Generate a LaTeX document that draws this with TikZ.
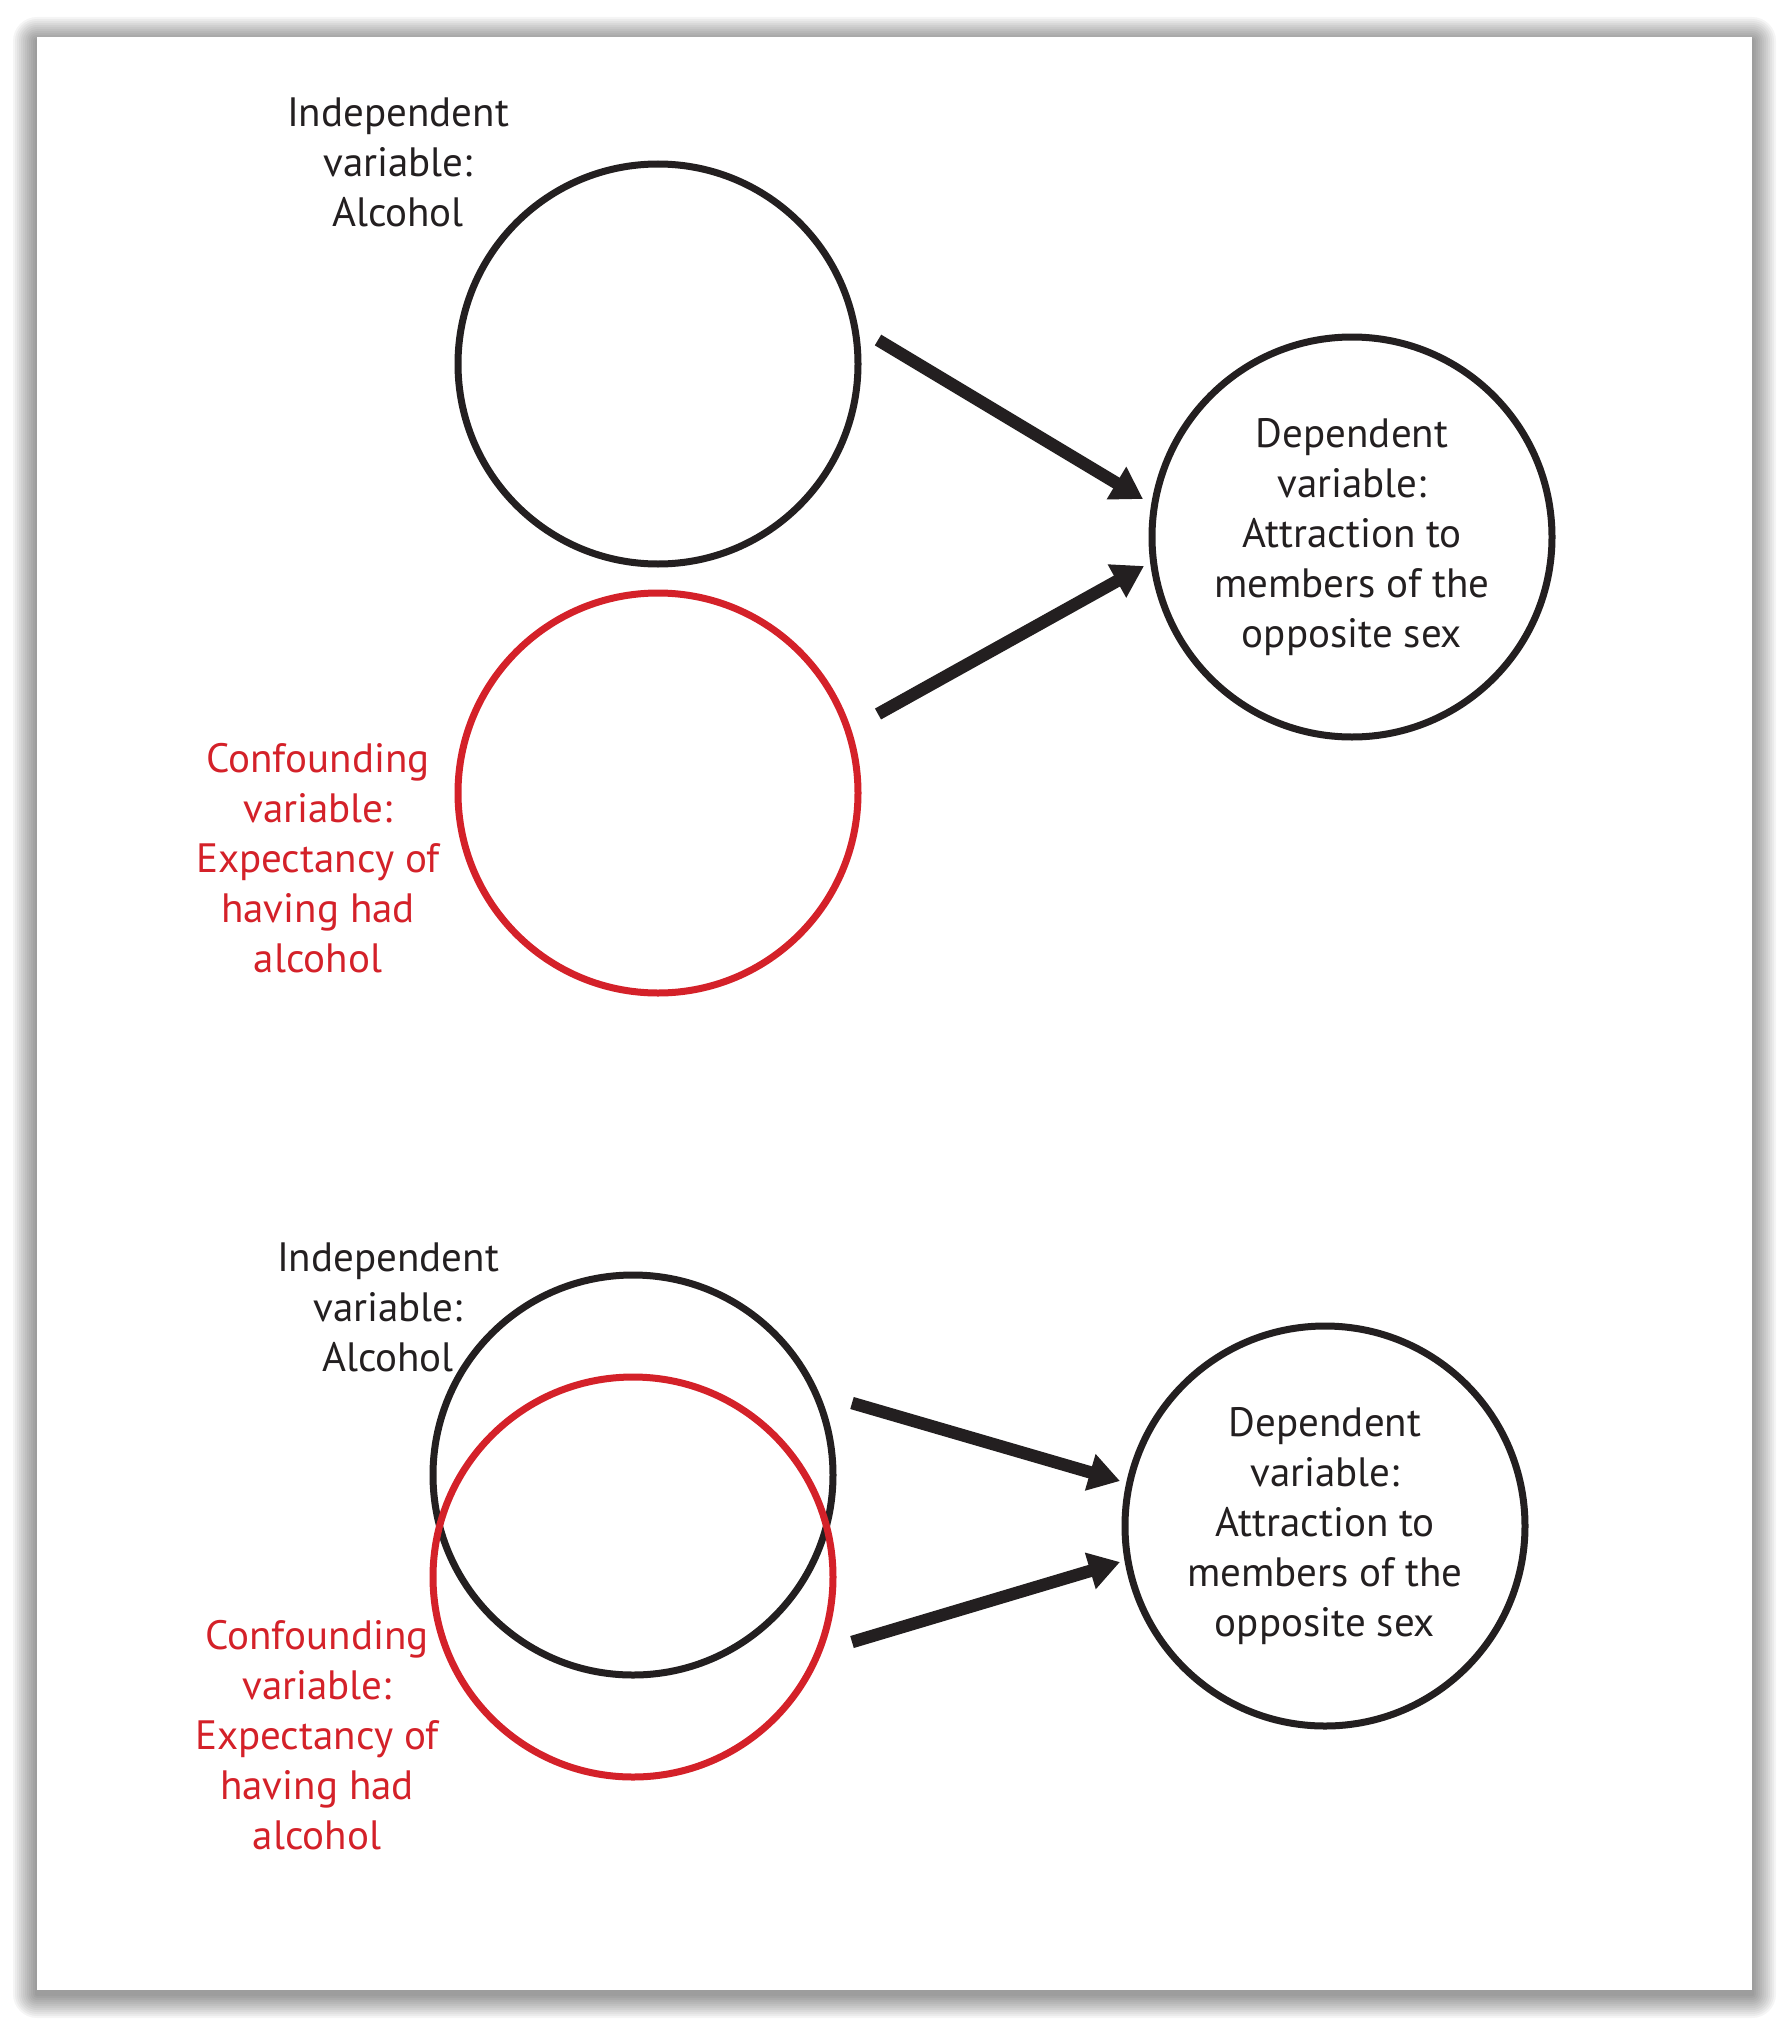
\documentclass[tikz,border=0pt]{standalone}
\usepackage{fontspec}
\setmainfont{PT Sans}
\usetikzlibrary{arrows.meta, calc, positioning}
\definecolor{inkblack}{RGB}{35,31,32}
\definecolor{confred}{RGB}{212,33,41}

\begin{document}
\begin{tikzpicture}[x=1pt, y=-1pt,
    var/.style={circle, draw=inkblack, line width=7pt, minimum size=400pt, inner sep=0pt},
    confvar/.style={var, draw=confred},
    lbl/.style={align=center, text=inkblack, font=\fontsize{41}{50}\selectfont},
    conflbl/.style={lbl, text=confred},
    pointer/.style={draw=inkblack, line width=12.5pt, -{Triangle[length=31pt, width=36pt]}}]

    \useasboundingbox (0,0) rectangle (1789,2028);

    % Page and its shadow
    \foreach \s in {24,22,...,2}
        \fill[black, opacity=0.04, rounded corners=\s pt] (37-\s,41-\s) rectangle (1752+\s,1994+\s);
    \fill[white] (37,37) rectangle (1752,1990);

    % Top: alcohol and expectancy as separate causes
    \node[var] (iv1) at (658,364) {};
    \node[confvar] (cv1) at (658,793) {};
    \node[var, lbl] (dv1) at (1352,537) {Dependent\\variable:\\Attraction to\\members of the\\opposite sex};

    \node[lbl] (ivl1) at (398,162) {Independent\\variable:\\Alcohol};
    \node[conflbl] (cvl1) at (318,858) {Confounding\\variable:\\Expectancy of\\having had\\alcohol};

    \draw[pointer] ($(iv1)+(220,-24)$) -- ($(dv1)+(-209,-38)$);
    \draw[pointer] ($(cv1)+(220,-79)$) -- ($(dv1)+(-208,29)$);

    % Bottom: the two overlap
    \node[var] (iv2) at (633,1475) {};
    \node[confvar] (cv2) at (633,1577) {};
    \node[var, lbl] (dv2) at (1325,1526) {Dependent\\variable:\\Attraction to\\members of the\\opposite sex};

    \node[lbl] (ivl2) at (388,1307) {Independent\\variable:\\Alcohol};
    \node[conflbl] (cvl2) at (317,1735) {Confounding\\variable:\\Expectancy of\\having had\\alcohol};

    \draw[pointer] ($(iv2)+(219,-72)$) -- ($(dv2)+(-205,-45)$);
    \draw[pointer] ($(cv2)+(219,65)$) -- ($(dv2)+(-205,36)$);

\end{tikzpicture}
\end{document}
